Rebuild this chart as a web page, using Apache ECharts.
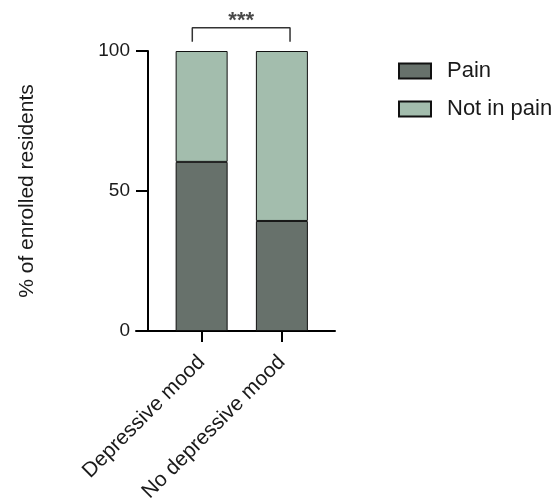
<!DOCTYPE html>
<html>
<head>
<meta charset="utf-8">
<script src="https://cdn.jsdelivr.net/npm/echarts@6/dist/echarts.min.js"></script>
<style>
  html, body { margin: 0; padding: 0; background: #fff; }
  #chart { width: 556px; height: 500px; }
</style>
</head>
<body>
<div id="chart"></div>
<script>
// Groups along the x axis
const categories = ['Depressive mood', 'No depressive mood'];
// Share of residents (%) in each group
const painValues = [60.4, 39.3];
const notInPainValues = [39.6, 60.7];
// Significance bracket between the two groups (x in group-index units, y in %)
const bracketX = [-0.117, -0.117, 1.10, 1.10];
const bracketY = [103.3, 108.3, 108.3, 103.3];
const significance = '***';

const FONT = '"Liberation Sans", Arial, sans-serif';
const TEXT = '#1a1a1a';

const chart = echarts.init(document.getElementById('chart'), null, { renderer: 'canvas' });

chart.setOption({
  animation: false,
  backgroundColor: '#ffffff',
  textStyle: { fontFamily: FONT },
  grid: [
    // bars
    { left: 161.5, right: 234, top: 51, bottom: 169, containLabel: false, outerBoundsMode: 'none' },
    // full-width baseline and annotation layer
    { left: 136, right: 221, top: 51, bottom: 169, containLabel: false, outerBoundsMode: 'none' }
  ],
  legend: {
    orient: 'vertical',
    left: 393,
    top: 55,
    itemWidth: 32,
    itemHeight: 15,
    itemGap: 16,
    icon: 'rect',
    data: ['Pain', 'Not in pain'],
    textStyle: { fontFamily: FONT, fontSize: 22, color: TEXT, padding: [0, 0, 0, 11] }
  },
  xAxis: [
    {
      type: 'category',
      gridIndex: 0,
      data: categories,
      boundaryGap: true,
      axisLine: { show: false },
      axisTick: { show: true, alignWithLabel: true, length: 11, lineStyle: { color: '#000', width: 2 } },
      axisLabel: {
        rotate: 45,
        margin: 28,
        fontSize: 21,
        color: TEXT,
        fontFamily: FONT,
        interval: 0
      }
    },
    {
      type: 'value',
      gridIndex: 1,
      min: -0.818,
      max: 1.66,
      splitLine: { show: false },
      axisLine: { show: true, onZero: false, lineStyle: { color: '#000', width: 2 } },
      axisTick: { show: false },
      axisLabel: { show: false }
    }
  ],
  yAxis: [
    {
      type: 'value',
      gridIndex: 0,
      min: 0,
      max: 100,
      interval: 50,
      offset: 13.5,
      name: '% of enrolled residents',
      nameLocation: 'middle',
      nameGap: 110,
      nameTextStyle: { fontSize: 21, color: TEXT, fontFamily: FONT },
      splitLine: { show: false },
      axisLine: { show: true, onZero: false, lineStyle: { color: '#000', width: 2 } },
      axisTick: { show: true, length: 12, lineStyle: { color: '#000', width: 2 } },
      axisLabel: { margin: 18, fontSize: 19, color: TEXT, fontFamily: FONT }
    },
    {
      type: 'value',
      gridIndex: 1,
      min: 0,
      max: 100,
      show: false
    }
  ],
  series: [
    {
      name: 'Pain',
      type: 'bar',
      xAxisIndex: 0,
      yAxisIndex: 0,
      stack: 'total',
      barWidth: 52,
      data: painValues,
      itemStyle: { color: '#67716b', borderColor: '#111', borderWidth: 1 }
    },
    {
      name: 'Not in pain',
      type: 'bar',
      xAxisIndex: 0,
      yAxisIndex: 0,
      stack: 'total',
      barWidth: 52,
      data: notInPainValues,
      itemStyle: { color: '#a3bdad', borderColor: '#111', borderWidth: 1 }
    },
    {
      name: 'bracket',
      type: 'line',
      xAxisIndex: 1,
      yAxisIndex: 1,
      clip: false,
      silent: true,
      symbol: 'none',
      data: bracketX.map((x, i) => [x, bracketY[i]]),
      lineStyle: { color: '#333', width: 1.5 },
      z: 5
    },
    {
      name: 'stars',
      type: 'scatter',
      xAxisIndex: 1,
      yAxisIndex: 1,
      clip: false,
      silent: true,
      symbolSize: 0,
      data: [[(bracketX[0] + bracketX[2]) / 2, bracketY[1]]],
      label: {
        show: true,
        position: 'top',
        distance: -4,
        formatter: significance,
        fontSize: 22,
        fontWeight: 'bold',
        color: TEXT,
        fontFamily: FONT
      }
    }
  ]
});
</script>
</body>
</html>
